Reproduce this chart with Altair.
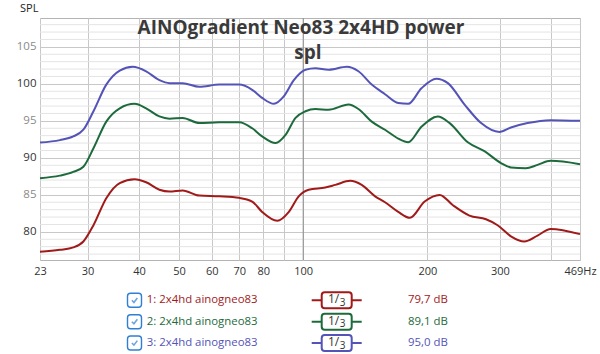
import altair as alt
import pandas as pd

# ---------------- data ----------------
series_names = ["1: 2x4hd ainogneo83", "2: 2x4hd ainogneo83", "3: 2x4hd ainogneo83"]
series_levels = ["79,7 dB", "89,1 dB", "95,0 dB"]
series_colors = ["#a11a1a", "#1d6b3c", "#5353b8"]

red_freq = [23.0, 25.7, 27.7, 29.3, 31.0, 33.3, 35.9, 39.0, 41.6, 44.8, 47.4, 51.0, 56.0,
            62.6, 69.9, 75.2, 79.5, 86.5, 92.3, 97.5, 103.1, 113.1, 119.6, 130.0, 138.6,
            149.4, 157.9, 170.0, 181.4, 197.0, 214.3, 230.7, 253.0, 277.5, 296.0, 318.9,
            343.6, 370.0, 398.0, 469.0]
red_spl = [77.3, 77.57, 77.9, 78.7, 80.9, 84.55, 86.6, 87.1, 86.7, 85.7, 85.45, 85.6, 84.9,
           84.8, 84.6, 84.1, 82.7, 81.5, 82.7, 84.8, 85.7, 86.0, 86.35, 86.9, 86.35,
           84.8, 84.0, 82.7, 81.9, 84.1, 85.0, 83.6, 82.2, 81.7, 80.9, 79.4,
           78.7, 79.5, 80.4, 79.7]

green_freq = [23.0, 25.7, 27.7, 29.3, 31.0, 33.3, 35.9, 39.0, 41.6, 44.8, 47.4, 51.0, 56.0,
              62.6, 69.9, 75.2, 79.5, 85.7, 90.6, 95.8, 101.3, 107.0, 115.2, 128.8, 136.1,
              146.6, 157.9, 170.0, 179.7, 193.5, 212.0, 226.5, 250.7, 275.0, 301.7, 318.9,
              346.5, 370.0, 398.0, 469.0]
green_spl = [87.26, 87.6, 88.1, 88.8, 91.3, 94.9, 96.7, 97.3, 96.7, 95.6, 95.3, 95.4, 94.7,
             94.8, 94.8, 94.0, 92.9, 92.0, 93.1, 95.4, 96.3, 96.6, 96.5, 97.2, 96.6,
             94.9, 93.8, 92.6, 92.1, 94.2, 95.6, 94.7, 92.1, 90.9, 89.3, 88.7,
             88.6, 89.05, 89.6, 89.15]

blue_freq = [23.0, 25.7, 27.7, 29.3, 31.0, 33.3, 35.9, 38.6, 41.6, 44.8, 47.4, 51.0, 56.0,
             62.6, 69.9, 75.2, 79.5, 84.9, 89.7, 94.9, 101.3, 107.0, 115.2, 127.6, 136.1,
             146.6, 157.9, 170.0, 179.7, 193.5, 210.2, 224.3, 246.2, 270.0, 299.0, 318.9,
             349.9, 398.0, 469.0]
blue_spl = [92.07, 92.4, 92.9, 93.8, 96.3, 99.9, 101.8, 102.3, 101.7, 100.5, 100.1, 100.1, 99.6,
            99.9, 99.9, 99.2, 98.1, 97.3, 98.3, 100.5, 101.9, 102.1, 101.9, 102.3, 101.7,
            99.9, 98.6, 97.4, 97.3, 99.4, 100.7, 100.1, 97.2, 94.7, 93.5, 94.1,
            94.7, 95.1, 95.0]

x_ticks = [23, 30, 40, 50, 60, 70, 80, 90, 100, 200, 300, 400, 469]
y_ticks = [80, 85, 90, 95, 100, 105]
minor_db = [77, 78, 79, 81, 82, 83, 84, 86, 87, 88, 89, 91, 92, 93, 94, 96, 97, 98, 99,
            101, 102, 103, 104, 106, 107, 108]
decade_lines = [100]

title_line1 = "AINOgradient Neo83 2x4HD power"
title_line2 = "spl"
y_title = "SPL"

# ---------------- build ----------------
frames = []
for name, f, s in [(series_names[0], red_freq, red_spl),
                   (series_names[1], green_freq, green_spl),
                   (series_names[2], blue_freq, blue_spl)]:
    frames.append(pd.DataFrame({"freq": f, "spl": s, "series": name}))
curves = pd.concat(frames, ignore_index=True)

W, H = 540, 242
x_scale = alt.Scale(type="log", domain=[23, 469], nice=False)
y_scale = alt.Scale(domain=[76.2, 108.9], nice=False, zero=False)

label_expr = ("datum.value == 90 || datum.value == 400 ? '' : "
              "(datum.value == 469 ? '469Hz' : format(datum.value, 'd'))")

minor = alt.Chart(pd.DataFrame({"db": minor_db})).mark_rule(
    color="#e4e4e4", strokeWidth=1
).encode(y=alt.Y("db:Q", scale=y_scale))

decade = alt.Chart(pd.DataFrame({"f": decade_lines})).mark_rule(
    color="#8c8c8c", strokeWidth=1
).encode(x=alt.X("f:Q", scale=x_scale))

lines = alt.Chart(curves).mark_line(strokeWidth=2, interpolate="monotone").encode(
    x=alt.X("freq:Q", scale=x_scale, title=None,
            axis=alt.Axis(values=x_ticks, labelExpr=label_expr, grid=True,
                          gridColor="#c8c8c8", domain=False, ticks=False,
                          labelFlush=False, labelPadding=5, labelFontSize=11,
                          labelFont="Open Sans", labelColor="#333333")),
    y=alt.Y("spl:Q", scale=y_scale, title=None,
            axis=alt.Axis(values=y_ticks, grid=True, gridColor="#c8c8c8",
                          domain=False, ticks=False, labelPadding=4,
                          labelFontSize=11.5, labelFont="Open Sans",
                          labelColor=alt.expr("datum.value % 10 === 0 ? '#333333' : '#8a8a8a'"))),
    color=alt.Color("series:N", scale=alt.Scale(domain=series_names, range=series_colors),
                    legend=None),
    detail="series:N",
)


def txt(s, x, y, **kw):
    return alt.Chart(pd.DataFrame({"t": [s]})).mark_text(**kw).encode(
        x=alt.value(x), y=alt.value(y), text="t:N")


def box(x1, x2, y1, y2, **kw):
    return alt.Chart(pd.DataFrame({"a": [0]})).mark_rect(**kw).encode(
        x=alt.value(x1), x2=alt.value(x2), y=alt.value(y1), y2=alt.value(y2))


def hline(x1, x2, y, **kw):
    return alt.Chart(pd.DataFrame({"a": [0]})).mark_rule(**kw).encode(
        x=alt.value(x1), x2=alt.value(x2), y=alt.value(y))


layers = [minor, decade, lines,
          txt(title_line1, 261, 16, font="Open Sans", fontSize=19, fontWeight="bold",
              color="#3a3a3a", align="center", baseline="alphabetic"),
          txt(title_line2, 268, 41, font="Open Sans", fontSize=19, fontWeight="bold",
              color="#3a3a3a", align="center", baseline="alphabetic"),
          txt(y_title, -20, -6, font="Open Sans", fontSize=11, color="#222222",
              align="left", baseline="alphabetic")]

row_centers = [282.3, 303.7, 325.0]
check_path = "M-0.55,0.0L-0.12,0.45L0.6,-0.5"
for i in range(3):
    cy = row_centers[i]
    col = series_colors[i]
    layers.append(box(87.5, 101.5, cy - 7, cy + 7, fill="white", stroke="#2f7fd6",
                      strokeWidth=1.4, cornerRadius=3))
    layers.append(alt.Chart(pd.DataFrame({"a": [0]})).mark_point(
        shape=check_path, filled=False, stroke="#2f7fd6", strokeWidth=1.6, size=90
    ).encode(x=alt.value(94.5), y=alt.value(cy)))
    layers.append(txt(series_names[i], 106.7, cy, font="Open Sans", fontSize=11.4,
                      color=col, align="left", baseline="middle"))
    layers.append(hline(271.7, 321.7, cy, color=col, strokeWidth=2))
    layers.append(box(281.7, 311.7, cy - 8, cy + 8, fill="white", stroke=col,
                      strokeWidth=2, cornerRadius=3))
    layers.append(txt("1/", 293.5, cy - 1, font="Open Sans", fontSize=12,
                      color="#333333", align="center", baseline="middle"))
    layers.append(txt("3", 302.5, cy + 2.5, font="Open Sans", fontSize=10,
                      color="#333333", align="center", baseline="middle"))
    layers.append(txt(series_levels[i], 368, cy, font="Open Sans", fontSize=11.4,
                      color=col, align="left", baseline="middle"))

chart = alt.layer(*layers).properties(
    width=W, height=H,
    autosize=alt.AutoSizeParams(type="none"),
    padding={"left": 40, "top": 18, "right": 20, "bottom": 94},
    background="white",
).configure_view(stroke="#b4b4b4", strokeWidth=1)

chart.save("out.html", embed_options={"renderer": "svg", "actions": False})
